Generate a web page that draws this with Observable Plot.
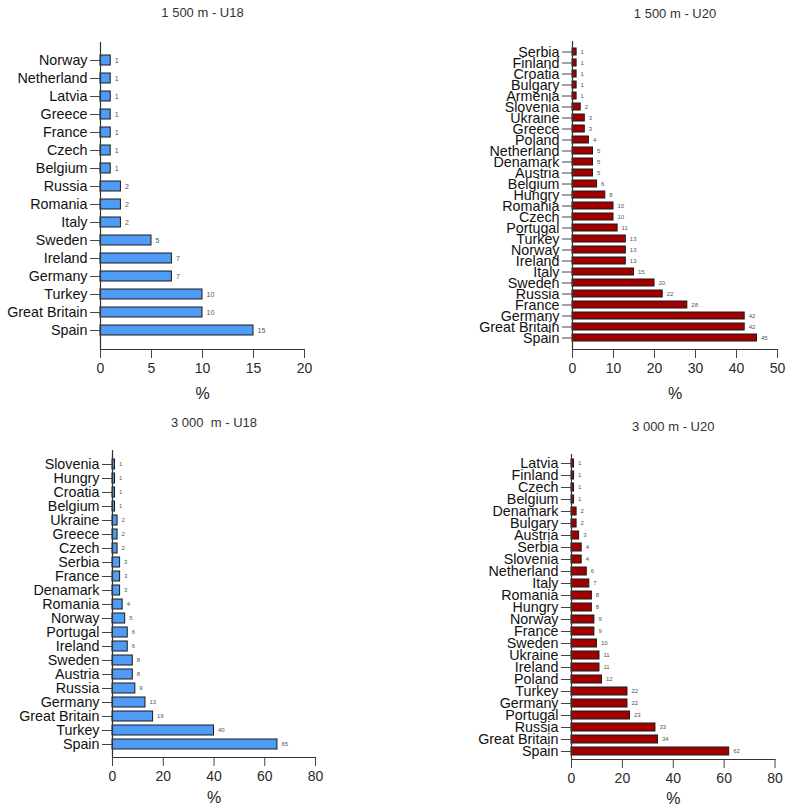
<!DOCTYPE html>
<html>
<head>
<meta charset="utf-8">
<script src="https://cdn.jsdelivr.net/npm/d3@7"></script>
<script src="https://cdn.jsdelivr.net/npm/@observablehq/plot@0.6"></script>
<style>
  html, body { margin: 0; padding: 0; background: #fff; }
  #wrap { position: relative; width: 789px; height: 811px; background: #fff; overflow: hidden; }
  .panel { position: absolute; }
</style>
</head>
<body>
<div id="wrap"></div>
<script>
// ---- Data (top-to-bottom order as drawn) ----
const titles = ["1 500 m - U18", "1 500 m - U20", "3 000  m - U18", "3 000 m - U20"];

const countries1500U18 = ["Norway","Netherland","Latvia","Greece","France","Czech","Belgium","Russia","Romania","Italy","Sweden","Ireland","Germany","Turkey","Great Britain","Spain"];
const values1500U18 = [1,1,1,1,1,1,1,2,2,2,5,7,7,10,10,15];
const ticks1500U18 = [0,5,10,15,20];

const countries1500U20 = ["Serbia","Finland","Croatia","Bulgary","Armenia","Slovenia","Ukraine","Greece","Poland","Netherland","Denamark","Austria","Belgium","Hungry","Romania","Czech","Portugal","Turkey","Norway","Ireland","Italy","Sweden","Russia","France","Germany","Great Britain","Spain"];
const values1500U20 = [1,1,1,1,1,2,3,3,4,5,5,5,6,8,10,10,11,13,13,13,15,20,22,28,42,42,45];
const ticks1500U20 = [0,10,20,30,40,50];

const countries3000U18 = ["Slovenia","Hungry","Croatia","Belgium","Ukraine","Greece","Czech","Serbia","France","Denamark","Romania","Norway","Portugal","Ireland","Sweden","Austria","Russia","Germany","Great Britain","Turkey","Spain"];
const values3000U18 = [1,1,1,1,2,2,2,3,3,3,4,5,6,6,8,8,9,13,16,40,65];
const ticks3000U18 = [0,20,40,60,80];

const countries3000U20 = ["Latvia","Finland","Czech","Belgium","Denamark","Bulgary","Austria","Serbia","Slovenia","Netherland","Italy","Romania","Hungry","Norway","France","Sweden","Ukraine","Ireland","Poland","Turkey","Germany","Portugal","Russia","Great Britain","Spain"];
const values3000U20 = [1,1,1,1,2,2,3,4,4,6,7,8,8,9,9,10,11,11,12,22,22,23,33,34,62];
const ticks3000U20 = [0,20,40,60,80];

const blue = "#4f9cf6";
const red = "#a20000";

function panel(o) {
  const data = o.countries.map((c, i) => ({c, v: o.values[i]}));
  const xmax = o.ticks[o.ticks.length - 1];
  const chart = Plot.plot({
    width: o.width,
    height: o.height,
    marginLeft: o.ml, marginRight: o.mr, marginTop: o.mt, marginBottom: o.mb,
    style: {fontFamily: "'Liberation Sans', Arial, sans-serif", color: "#2a2a2a", background: "transparent", overflow: "visible"},
    x: {domain: [0, xmax]},
    y: {domain: o.countries, paddingInner: o.pi, paddingOuter: o.po},
    marks: [
      Plot.barX(data, {x: "v", y: "c", fill: o.fill, stroke: "#1a1a1a", strokeWidth: 1}),
      Plot.text(data, {x: "v", y: "c", text: d => String(d.v), dx: 4, textAnchor: "start", fontSize: o.vfs, fill: "#555"}),
      Plot.ruleX([0], {stroke: "#333", strokeWidth: 1.2}),
      Plot.frame({anchor: "bottom", stroke: "#333", strokeWidth: 1.2}),
      Plot.axisX({ticks: o.ticks, tickSize: 9, tickPadding: 5, fontSize: 14, label: null, stroke: "#444"}),
      Plot.axisY({tickSize: 10, tickPadding: 3, fontSize: 14.3, label: null, stroke: "#444", fill: "#111"}),
      Plot.text([o.title], {frameAnchor: "top", lineAnchor: "middle", dy: o.tdy, fontSize: 13, fill: "#333"}),
      Plot.text(["%"], {frameAnchor: "bottom", lineAnchor: "middle", dy: o.pdy, fontSize: 16, fill: "#222"})
    ]
  });
  const div = document.createElement("div");
  div.className = "panel";
  div.style.left = o.left + "px";
  div.style.top = o.top + "px";
  div.appendChild(chart);
  document.getElementById("wrap").appendChild(div);
}

panel({title: titles[0], countries: countries1500U18, values: values1500U18, ticks: ticks1500U18, fill: blue,
  left: 0, top: 0, width: 394, height: 405, ml: 100, mr: 90, mt: 42, mb: 56, pi: 0.42, po: 0.32, vfs: 7, tdy: -30, pdy: 44});
panel({title: titles[1], countries: countries1500U20, values: values1500U20, ticks: ticks1500U20, fill: red,
  left: 394, top: 0, width: 395, height: 405, ml: 178, mr: 12, mt: 41, mb: 56, pi: 0.35, po: 0.325, vfs: 6, tdy: -28, pdy: 44});
panel({title: titles[2], countries: countries3000U18, values: values3000U18, ticks: ticks3000U18, fill: blue,
  left: 0, top: 405, width: 394, height: 406, ml: 112, mr: 79, mt: 45, mb: 54, pi: 0.3, po: 0.325, vfs: 6, tdy: -28, pdy: 40});
panel({title: titles[3], countries: countries3000U20, values: values3000U20, ticks: ticks3000U20, fill: red,
  left: 394, top: 405, width: 395, height: 406, ml: 177, mr: 14.5, mt: 49, mb: 52, pi: 0.34, po: 0.3, vfs: 6, tdy: -28, pdy: 39});
</script>
</body>
</html>
